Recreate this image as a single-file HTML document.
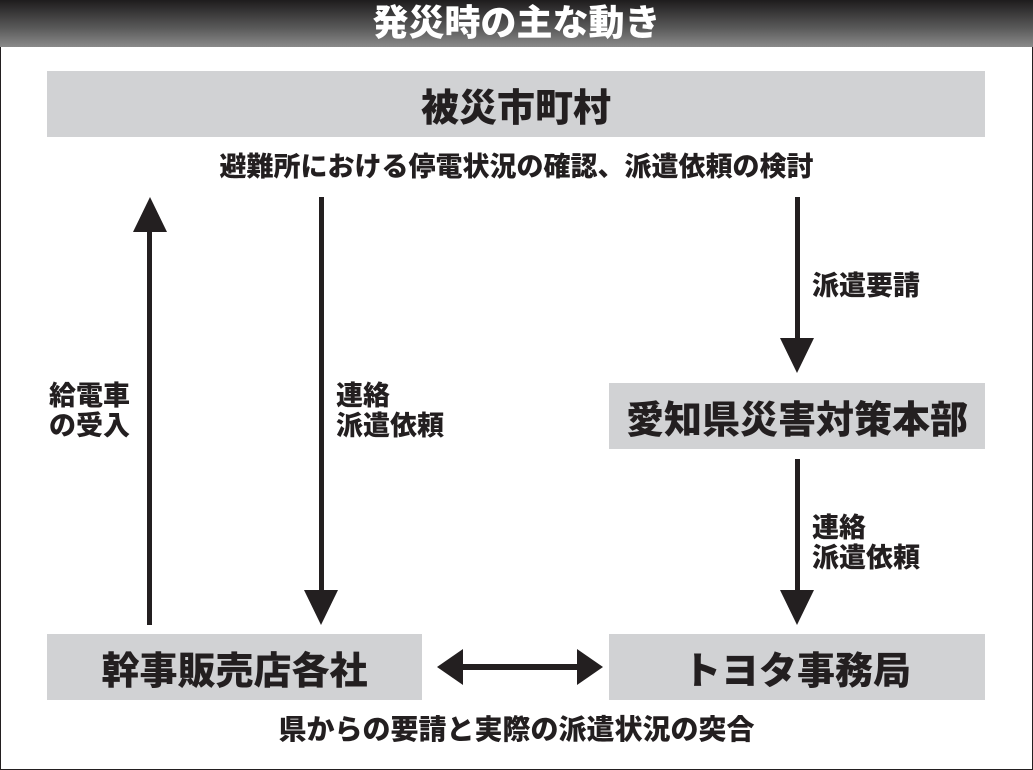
<!DOCTYPE html>
<html><head><meta charset="utf-8"><style>
html,body{margin:0;padding:0;}
body{width:1033px;height:770px;position:relative;background:#fff;overflow:hidden;font-family:"Liberation Sans","Noto Sans CJK JP",sans-serif;font-weight:900;color:#231f20;}
.frame{position:absolute;left:0;top:0;width:1031px;height:768px;border:1px solid #231f20;}
.hdr{position:absolute;left:0;top:0;width:1033px;height:47px;background:linear-gradient(#1e1c1d,#5a5a5a 60%,#8a8a8a);}
.t{position:absolute;white-space:nowrap;text-align:center;line-height:1;}
.box{position:absolute;background:#d1d2d4;display:flex;align-items:center;justify-content:center;font-size:38px;}
</style></head><body>
<div class="frame"></div>
<div class="hdr"></div>
<div class="t" style="left:0;width:1033px;top:5px;font-size:36px;color:#fff;">発災時の主な動き</div>
<div class="box" style="left:47px;top:71px;width:938px;height:66px;">被災市町村</div>
<div class="t" style="left:0;width:1033px;top:154px;font-size:27px;">避難所における停電状況の確認、派遣依頼の検討</div>
<div class="box" style="left:609px;top:383px;width:376px;height:66px;">愛知県災害対策本部</div>
<div class="box" style="left:47px;top:634px;width:375px;height:66px;">幹事販売店各社</div>
<div class="box" style="left:609px;top:634px;width:376px;height:66px;">トヨタ事務局</div>
<div class="t" style="left:0;width:1033px;top:716px;font-size:28px;">県からの要請と実際の派遣状況の突合</div>
<div class="t" style="left:49px;top:381px;font-size:27px;text-align:left;line-height:30px;">給電車<br>の受入</div>
<div class="t" style="left:336px;top:381px;font-size:27px;text-align:left;line-height:30px;">連絡<br>派遣依頼</div>
<div class="t" style="left:812px;top:273px;font-size:27px;text-align:left;">派遣要請</div>
<div class="t" style="left:812px;top:513px;font-size:27px;text-align:left;line-height:30px;">連絡<br>派遣依頼</div>
<svg width="1033" height="770" style="position:absolute;left:0;top:0">
<g fill="#231f20">
<rect x="147" y="228" width="5" height="397"/><polygon points="133,232 167,232 150,197"/>
<rect x="319" y="197" width="5" height="397"/><polygon points="304,590 338,590 321,625"/>
<rect x="795" y="197" width="5" height="142"/><polygon points="780,338 814,338 797,373"/>
<rect x="795" y="459" width="5" height="132"/><polygon points="780,590 814,590 797,625"/>
<rect x="455" y="664" width="130" height="6"/>
<polygon points="437,667 463,649 463,685"/><polygon points="603,667 577,649 577,685"/>
</g></svg>
</body></html>
